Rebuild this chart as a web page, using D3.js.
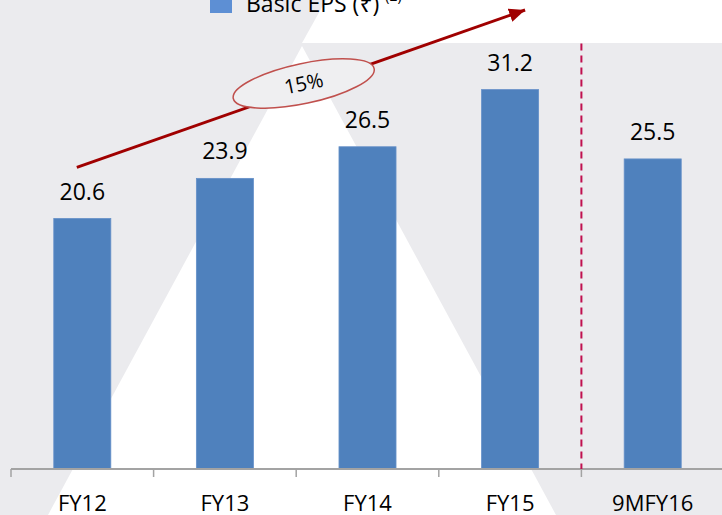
<!DOCTYPE html>
<html>
<head>
<meta charset="utf-8">
<script src="https://cdn.jsdelivr.net/npm/d3@7"></script>
<style>
	body { margin: 0; background: #fff; }
	svg { display: block; }
	text { font-family: "Open Sans", "Noto Sans", "DejaVu Sans", sans-serif; fill: #000; }
</style>
</head>
<body>
<svg class="chart"></svg>
<script>
// chart values
const years = ["FY12", "FY13", "FY14", "FY15", "9MFY16"];
const eps = [20.6, 23.9, 26.5, 31.2, 25.5];
const legendLabel = "Basic EPS (₹)";
const legendNote = "(2)";
const cagrLabel = "15%";

const size = { w: 722, h: 515 };
const margin = { t: 43, r: -2, b: 46, l: 11 };

const svg = d3.select("svg.chart").attr("width", size.w).attr("height", size.h);

// slide background: grey with a white watermark triangle
svg.append("rect").attr("width", size.w).attr("height", size.h).attr("fill", "#ebebee");
svg.append("polygon")
	.attr("points", "326,0 722,0 722,43 302,43")
	.attr("fill", "#ffffff");
svg.append("polygon")
	.attr("points", "302,46 556,515 48,515")
	.attr("fill", "#ffffff");

const data = years.map((y, i) => ({ year: y, value: eps[i] }));

const xScale = d3
	.scaleBand()
	.domain(years)
	.range([margin.l, size.w - margin.r])
	.paddingInner(0.6)
	.paddingOuter(0.3);

const yScale = d3
	.scaleLinear()
	.domain([0, 35])
	.range([size.h - margin.b, margin.t + 0.4]);

const gap = xScale.step() - xScale.bandwidth();
const boundary = (d) => xScale(d) - gap / 2;
const baseY = yScale(0);

// bars
svg.append("g")
	.selectAll("rect")
	.data(data)
	.join("rect")
	.attr("x", (d) => xScale(d.year))
	.attr("y", (d) => yScale(d.value))
	.attr("width", xScale.bandwidth())
	.attr("height", (d) => baseY - yScale(d.value))
	.attr("fill", "#4f81bd")
	.attr("stroke", "#6590c8")
	.attr("stroke-width", 0.8);

// value labels
svg.append("g")
	.selectAll("text")
	.data(data)
	.join("text")
	.attr("x", (d) => xScale(d.year) + xScale.bandwidth() / 2)
	.attr("y", (d) => yScale(d.value) - 19)
	.attr("text-anchor", "middle")
	.style("font-size", "23px")
	.text((d) => d.value.toFixed(1));

// axis line with ticks between categories
const axisG = svg.append("g").attr("class", "axis");
axisG.append("line")
	.attr("x1", boundary(years[0]))
	.attr("x2", size.w)
	.attr("y1", baseY)
	.attr("y2", baseY)
	.attr("stroke", "#a3a3a3")
	.attr("stroke-width", 2);
axisG.selectAll("line.tick")
	.data(years)
	.join("line")
	.classed("tick", true)
	.attr("x1", (d) => boundary(d))
	.attr("x2", (d) => boundary(d))
	.attr("y1", baseY)
	.attr("y2", baseY + 8)
	.attr("stroke", "#a3a3a3")
	.attr("stroke-width", 1.5);

const labelAxis = svg.append("g")
	.attr("transform", `translate(0,${baseY})`)
	.call(d3.axisBottom(xScale).tickSize(0).tickPadding(0));
labelAxis.select(".domain").remove();
labelAxis.selectAll("text")
	.attr("dy", null)
	.attr("y", 42)
	.style("font-size", "22px")
	.style("font-family", '"Open Sans", "Noto Sans", sans-serif')
	.attr("fill", "#000");

// dashed separator before the 9M period
svg.append("line")
	.attr("x1", boundary("9MFY16"))
	.attr("x2", boundary("9MFY16"))
	.attr("y1", yScale(35))
	.attr("y2", baseY)
	.attr("stroke", "#c0104f")
	.attr("stroke-width", 2)
	.attr("stroke-dasharray", "7,5");

// growth arrow
svg.append("defs")
	.append("marker")
	.attr("id", "head")
	.attr("markerUnits", "userSpaceOnUse")
	.attr("viewBox", "0 0 16 14")
	.attr("markerWidth", 16)
	.attr("markerHeight", 14)
	.attr("refX", 16)
	.attr("refY", 7)
	.attr("orient", "auto")
	.append("path")
	.attr("d", "M0,0 L16,7 L0,14 Z")
	.attr("fill", "#a00000");

const arrowStart = [xScale("FY12") + xScale.bandwidth() / 2 - 5.5, yScale(24.8)];
const arrowEnd = [xScale("FY15") + xScale.bandwidth() / 2 + 15, yScale(37.75)];
svg.append("line")
	.attr("x1", arrowStart[0])
	.attr("y1", arrowStart[1])
	.attr("x2", arrowEnd[0])
	.attr("y2", arrowEnd[1])
	.attr("stroke", "#a00000")
	.attr("stroke-width", 3)
	.attr("marker-end", "url(#head)");

// CAGR bubble
const cx = boundary("FY14") + 7.5;
const cy = yScale(31.7);
const bubble = svg.append("g").attr("transform", `translate(${cx},${cy}) rotate(-12)`);
bubble.append("ellipse")
	.attr("rx", 72)
	.attr("ry", 20)
	.attr("fill", "#efeff1")
	.attr("stroke", "#c0504d")
	.attr("stroke-width", 1.5);
bubble.append("text")
	.attr("text-anchor", "middle")
	.attr("y", 7)
	.style("font-size", "20px")
	.text(cagrLabel);

// legend
const legend = svg.append("g");
legend.append("rect")
	.attr("x", 210)
	.attr("y", -9)
	.attr("width", 22)
	.attr("height", 22)
	.attr("fill", "#5d8fd4");
const legendText = legend.append("text")
	.attr("x", 246)
	.attr("y", 12)
	.style("font-size", "23px")
	.text(legendLabel);
legendText.append("tspan")
	.attr("dx", 6)
	.attr("dy", -11)
	.style("font-size", "14px")
	.text(legendNote);
</script>
</body>
</html>
